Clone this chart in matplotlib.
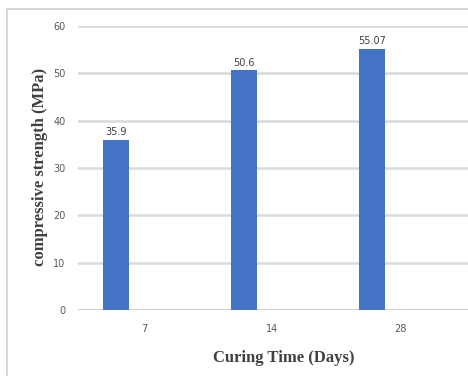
import matplotlib
matplotlib.use("Agg")
import matplotlib.pyplot as plt
from matplotlib.patches import Rectangle

categories = ["7", "14", "28"]
strength = [35.9, 50.6, 55.07]
bar_labels = ["35.9", "50.6", "55.07"]
yticks = [0, 10, 20, 30, 40, 50, 60]

BLUE = "#4472C4"
GRID = "#d9d9d9"
TXT = "#595959"

fig = plt.figure(figsize=(4.68, 3.76), dpi=100)
W, H = 468, 376

# light outer frame (chart area border)
fig.patches.append(Rectangle((7 / W, -0.05), 1.1, 1 - 9 / H + 0.05,
                             transform=fig.transFigure, fill=False,
                             ec="#d0d0d0", lw=1.2))

ax = fig.add_axes([78 / W, 1 - 310 / H, (468 - 78) / W, (310 - 26) / H])
x = list(range(len(categories)))
pos = [i - 0.22 for i in x]
ax.bar(pos, strength, width=0.2, color=BLUE, zorder=3)
for p, v, lab in zip(pos, strength, bar_labels):
    ax.text(p, v + 0.6, lab, ha="center", va="bottom", fontsize=7,
            color="#404040", zorder=4)

ax.set_ylim(0, 60)
ax.set_xlim(-0.5 - 2 / 128, 2.5 + 4 / 128)
ax.set_yticks(yticks)
ax.set_xticks(x)
ax.set_xticklabels(categories)
ax.yaxis.grid(True, color=GRID, lw=1.8, zorder=0)
ax.axhline(0, color="#cfcfcf", lw=2.2, zorder=2)
for s in ax.spines.values():
    s.set_visible(False)
ax.tick_params(length=0, labelsize=7, colors=TXT)
ax.tick_params(axis="y", pad=9)
ax.tick_params(axis="x", pad=10)

ax.set_xlabel("Curing Time (Days)", family="Liberation Serif",
              fontweight="bold", fontsize=12, color="#404040", labelpad=8)
ax.xaxis.set_label_coords((284 - 78) / (468 - 78), -(358 - 310) / (310 - 26))
ax.xaxis.label.set_va("center")
ax.set_ylabel("compressive strength (MPa)", family="Liberation Serif",
              fontweight="bold", fontsize=12, color="#404040")
ax.yaxis.set_label_coords(-(78 - 40) / (468 - 78), (310 - 167) / (310 - 26))
ax.yaxis.label.set_va("center")

fig.savefig("out.png", dpi=100)
